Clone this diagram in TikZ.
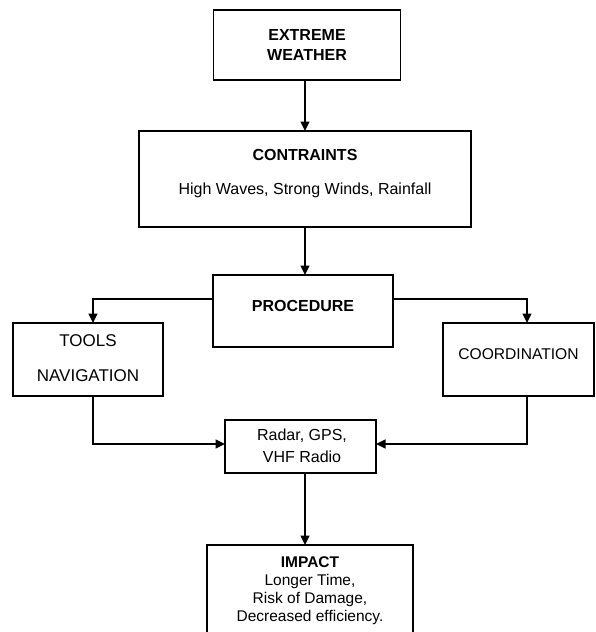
\documentclass[tikz,border=0pt]{standalone}
\usepackage{fontspec}
\setmainfont{Liberation Sans}
\usetikzlibrary{arrows.meta}
\begin{document}
\begin{tikzpicture}[x=1pt,y=1pt,
  box/.style={draw=black,line width=1.3pt,fill=white,inner sep=0pt,outer sep=0pt,rectangle},
  txt/.style={inner sep=0pt,font=\fontsize{16}{18}\selectfont,align=center},
  btxt/.style={txt,font=\fontsize{16}{18}\selectfont\bfseries},
  arr/.style={line width=1.3pt,-{Triangle[length=9.5pt,width=9pt]}}]
\useasboundingbox (0,0) rectangle (595,-632);
\clip (0,0) rectangle (595,-632);
% boxes
\node[box,minimum width=187pt,minimum height=70pt] (ew) at (307,-45) {};
\node[box,minimum width=332pt,minimum height=96pt] (con) at (305,-179) {};
\node[box,minimum width=180pt,minimum height=72pt] (proc) at (303,-311) {};
\node[box,minimum width=150pt,minimum height=73pt] (tools) at (88,-359.5) {};
\node[box,minimum width=151pt,minimum height=73pt] (coord) at (518.5,-359.5) {};
\node[box,minimum width=151pt,minimum height=53pt] (radar) at (300.5,-446.5) {};
\node[box,minimum width=206pt,minimum height=100pt] (impact) at (310,-595) {};
% texts
\node[btxt] (ewt1) at (307,-35) {EXTREME};
\node[btxt] (ewt2) at (307,-55) {WEATHER};
\node[btxt] (cont1) at (305,-155) {CONTRAINTS};
\node[txt] (cont2) at (305,-190) {High Waves, Strong Winds, Rainfall};
\node[btxt] (proct) at (303,-306) {PROCEDURE};
\node[txt,font=\fontsize{17}{19}\selectfont] (toolst1) at (88,-341) {TOOLS};
\node[txt,font=\fontsize{17}{19}\selectfont] (toolst2) at (88,-376) {NAVIGATION};
\node[txt,font=\fontsize{15.6}{18}\selectfont] (coordt) at (518.5,-354) {COORDINATION};
\node[txt] (radart1) at (302,-436) {Radar, GPS,};
\node[txt] (radart2) at (302,-457) {VHF Radio};
\node[btxt,font=\fontsize{15.5}{18}\selectfont\bfseries] (impt1) at (310,-562) {IMPACT};
\node[txt,font=\fontsize{15.5}{18}\selectfont] (impt2) at (310,-581) {Longer Time,};
\node[txt,font=\fontsize{15.5}{18}\selectfont] (impt3) at (310,-599) {Risk of Damage,};
\node[txt,font=\fontsize{15.5}{18}\selectfont] (impt4) at (310,-617) {Decreased efficiency.};
% connectors
\draw[arr] (con.north |- ew.south) -- (con.north);
\draw[arr] (con.south) -- (con.south |- proc.north);
\draw[arr] ([yshift=12pt]proc.west) -| ([xshift=5pt]tools.north);
\draw[arr] ([yshift=12pt]proc.east) -| ([xshift=8.5pt]coord.north);
\draw[arr] ([xshift=5pt]tools.south) |- ([yshift=2.5pt]radar.west);
\draw[arr] ([xshift=8.5pt]coord.south) |- ([yshift=2.5pt]radar.east);
\draw[arr] ([xshift=4.5pt]radar.south) -- ([xshift=-5pt]impact.north);
\end{tikzpicture}
\end{document}
